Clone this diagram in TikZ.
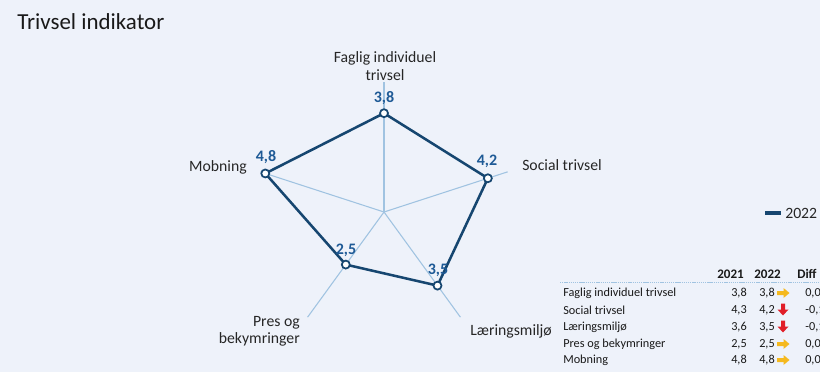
\documentclass[tikz,border=0pt]{standalone}
\usepackage{fontspec}
\setmainfont{Carlito}
\begin{document}
\begin{tikzpicture}[x=0.75pt,y=-0.75pt,
  axisline/.style={draw=axisblue, line width=0.8pt},
  dataline/.style={draw=navy, line width=1.9pt, line join=round},
  marker/.style={circle, draw=navy, fill=white, line width=1.3pt, inner sep=0pt, minimum size=6pt},
  vallabel/.style={text=valblue, font=\fontsize{12}{14}\selectfont\bfseries, inner sep=0pt},
  catlabel/.style={font=\fontsize{11.8}{13}\selectfont, inner sep=0pt, text=black!85},
  tab/.style={font=\fontsize{9.2}{11}\selectfont, inner sep=0pt, text=black!90},
  tabhead/.style={font=\fontsize{9.8}{11}\selectfont\bfseries, inner sep=0pt, text=black!90}]
\definecolor{bg}{RGB}{238,242,250}
\definecolor{axisblue}{RGB}{160,195,225}
\definecolor{navy}{RGB}{22,70,112}
\definecolor{valblue}{RGB}{30,90,150}
\definecolor{arrowyellow}{RGB}{245,185,30}
\definecolor{arrowred}{RGB}{225,30,40}
\useasboundingbox (0,0) rectangle (820,372);
\fill[bg] (0,0) rectangle (820,372);
\clip (0,0) rectangle (820,372);

\node[anchor=west, font=\fontsize{17.2}{19}\selectfont, inner sep=0pt, text=black!90] (title) at (17,22) {Trivsel indikator};

\coordinate (c) at (384,212);
\begin{scope}[shift={(c)}, x=0.75pt, y=0.75pt]
  \coordinate (e1) at (90:130);
  \coordinate (e2) at (18:130);
  \coordinate (e3) at (-54:130);
  \coordinate (e4) at (-126:130);
  \coordinate (e5) at (162:130);
  \coordinate (p1) at (90:98.8);
  \coordinate (p2) at (18:109.2);
  \coordinate (p3) at (-54:91);
  \coordinate (p4) at (-126:65);
  \coordinate (p5) at (162:124.8);
\end{scope}
\foreach \i in {1,...,5} \draw[axisline] (c) -- (e\i);
\draw[dataline] (p1) -- (p2) -- (p3) -- (p4) -- (p5) -- cycle;
\foreach \i in {1,...,5} \node[marker] (m\i) at (p\i) {};

\node[vallabel] (v1) at (384,98) {3,8};
\node[vallabel] (v2) at (487,161) {4,2};
\node[vallabel] (v3) at (438,270) {3,5};
\node[vallabel] (v4) at (346,250) {2,5};
\node[vallabel] (v5) at (266,157) {4,8};

\node[catlabel, align=center] (l1) at (385,66) {Faglig individuel\\trivsel};
\node[catlabel, anchor=west] (l2) at (522,165) {Social trivsel};
\node[catlabel, anchor=west] (l3) at (470,331) {Læringsmiljø};
\node[catlabel, align=right, anchor=east] (l4) at (300,331) {Pres og\\bekymringer};
\node[catlabel, anchor=east] (l5) at (247,167) {Mobning};

% legend
\coordinate (lg1) at (765,213);
\coordinate (lg2) at (781,213);
\draw[navy, line width=2.6pt] (lg1) -- (lg2);
\node[catlabel, anchor=west] (lgt) at (785,213) {2022};

% table
\node[tabhead, anchor=east] (h1) at (744,274) {2021};
\node[tabhead, anchor=east] (h2) at (781,274) {2022};
\node[tabhead, anchor=west] (h3) at (797,274) {Diff};
\coordinate (hl1) at (560,282);
\coordinate (hl2) at (820,282);
\draw[axisblue, line width=0.7pt, dash pattern=on 1pt off 0.6pt] (hl1) -- (hl2);

\foreach \y/\lab/\a/\b/\d/\dir [count=\k] in {
  293/{Faglig individuel trivsel}/{3,8}/{3,8}/{0,0}/r,
  310/{Social trivsel}/{4,3}/{4,2}/{-0,1}/d,
  327/{Læringsmiljø}/{3,6}/{3,5}/{-0,1}/d,
  344/{Pres og bekymringer}/{2,5}/{2,5}/{0,0}/r,
  360/{Mobning}/{4,8}/{4,8}/{0,0}/r} {
  \node[tab, anchor=west] (r\k) at (563,\y) {\lab};
  \node[tab, anchor=east] (a\k) at (747,\y) {\a};
  \node[tab, anchor=east] (b\k) at (775,\y) {\b};
  \node[tab, anchor=west] (d\k) at (805,\y) {\d};
  \if r\dir
    \fill[arrowyellow] (777,\y-2) -- (783.5,\y-2) -- (783.5,\y-5) -- (789.5,\y) -- (783.5,\y+5) -- (783.5,\y+2) -- (777,\y+2) -- cycle;
  \else
    \fill[arrowred] (781,\y-6.5) -- (785,\y-6.5) -- (785,\y-0.5) -- (788.5,\y-0.5) -- (783,\y+5.5) -- (777.5,\y-0.5) -- (781,\y-0.5) -- cycle;
  \fi
}
\end{tikzpicture}
\end{document}
